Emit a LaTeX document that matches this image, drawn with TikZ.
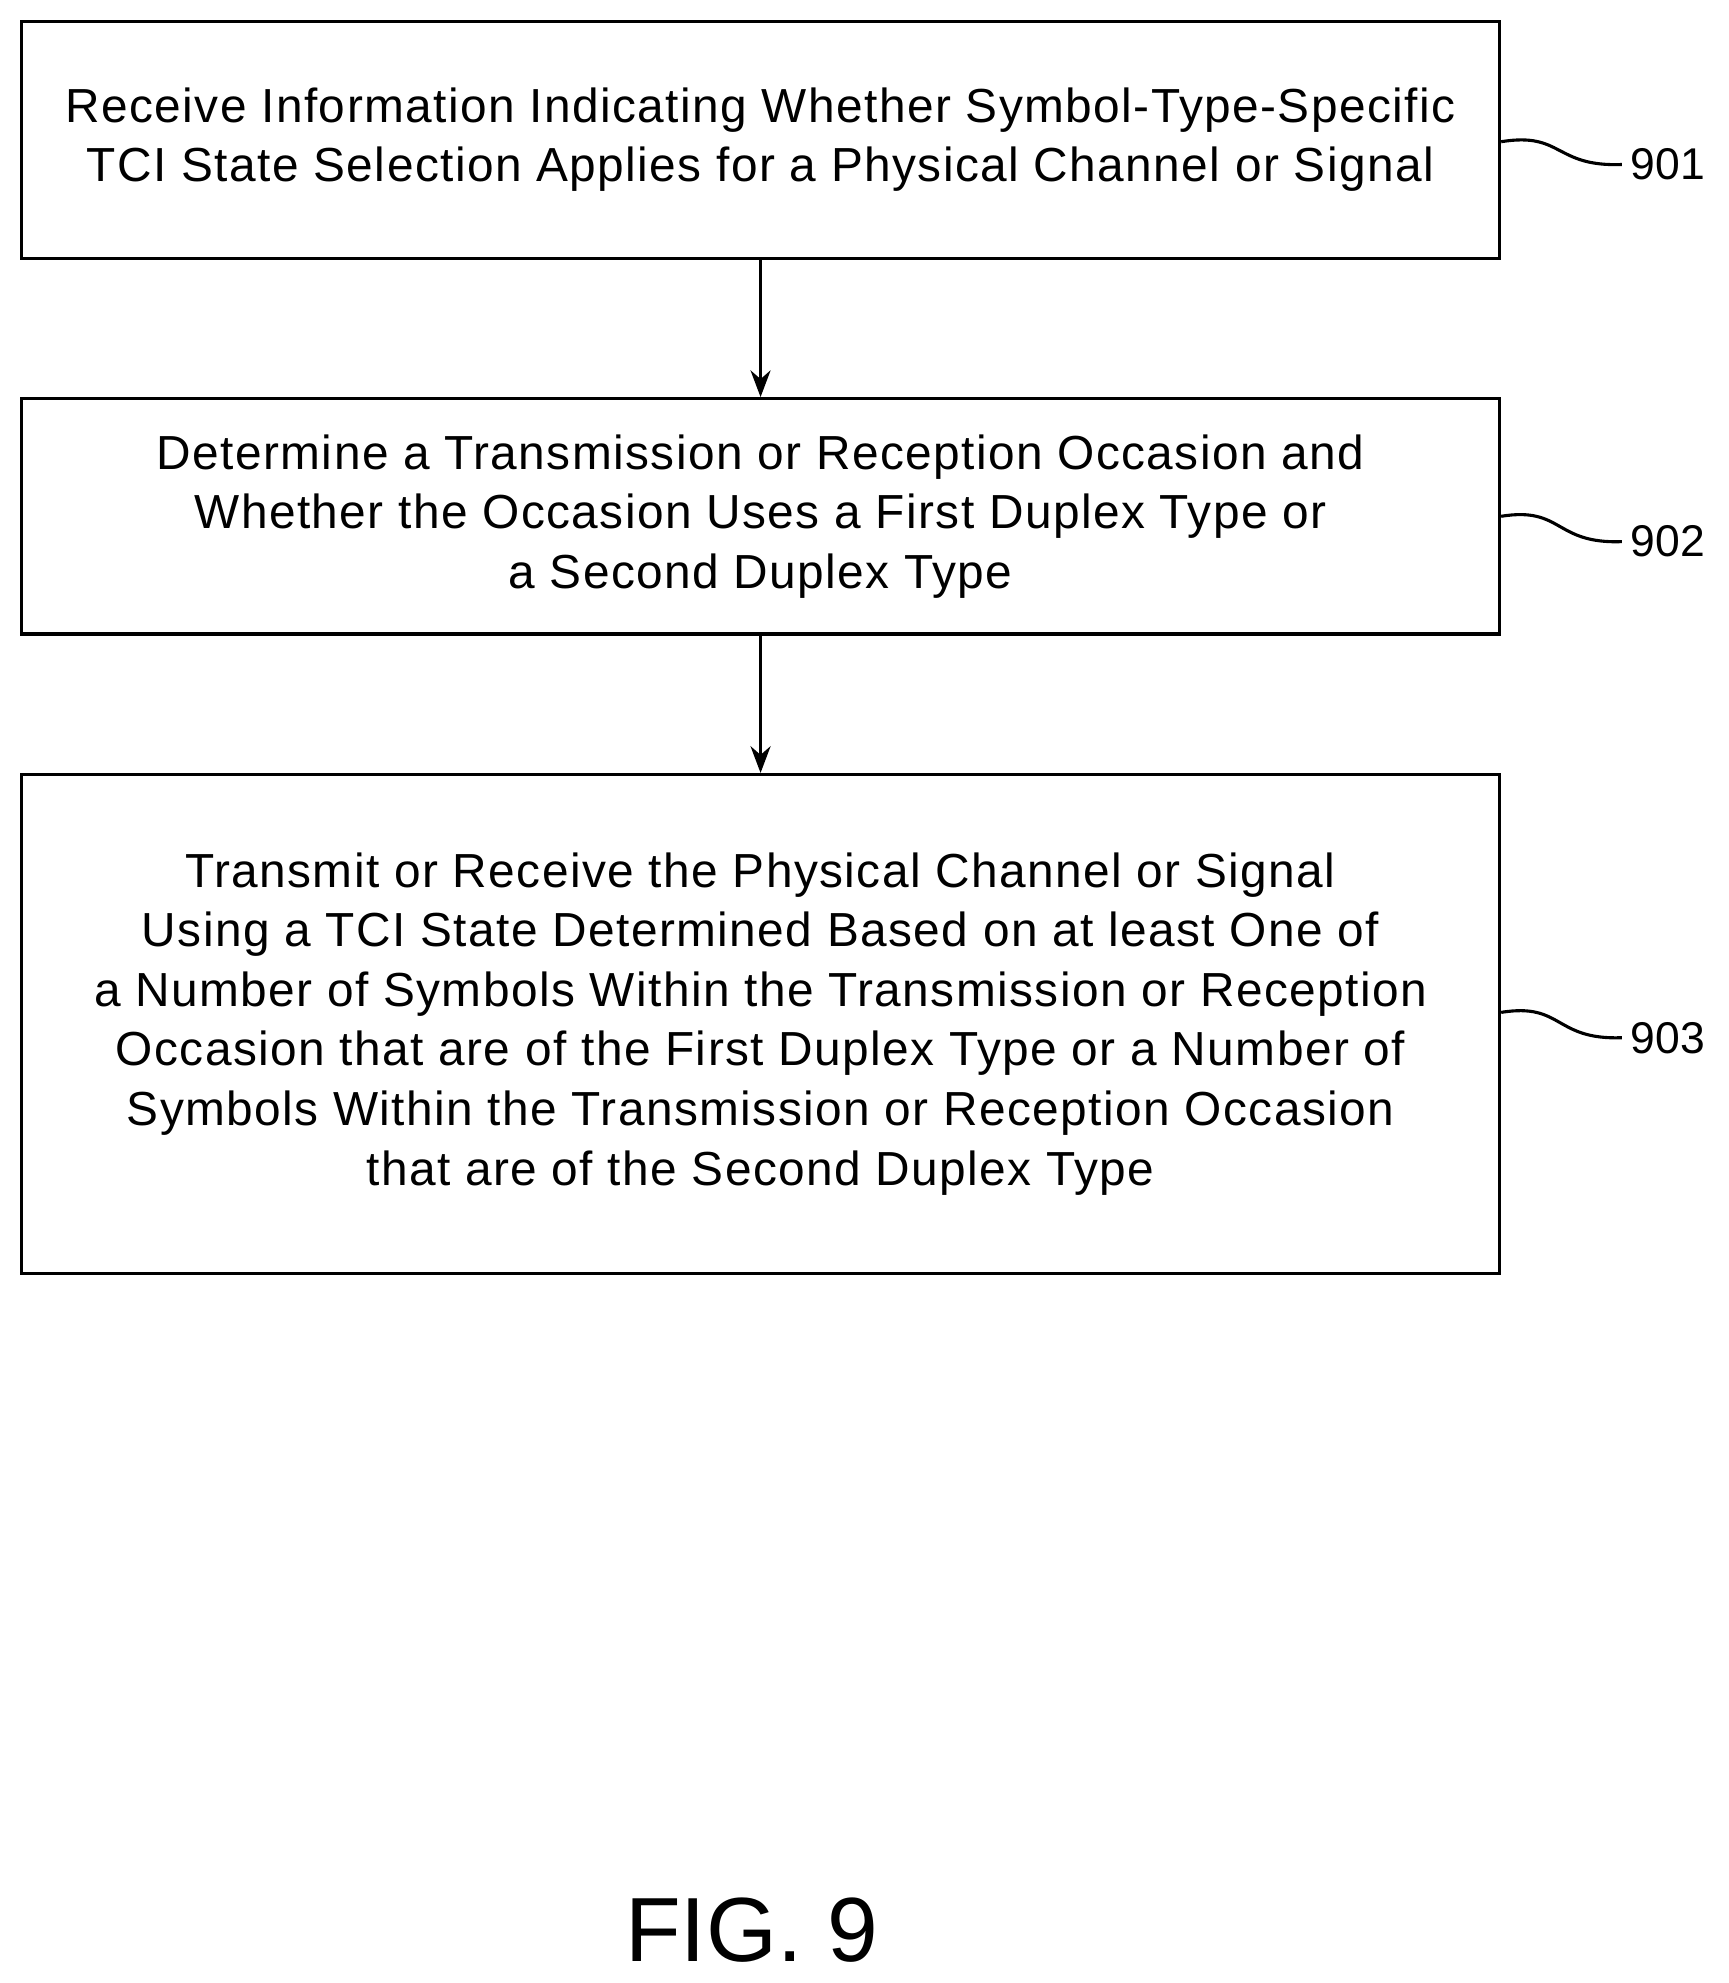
\documentclass[tikz,border=0pt]{standalone}
\usepackage{fontspec}
\setmainfont{Liberation Sans}
\usetikzlibrary{arrows.meta}

\begin{document}
\begin{tikzpicture}[x=0.02cm,y=-0.02cm,->,>={Stealth[length=12pt,width=9pt]},line width=1.4pt]
            \useasboundingbox (0,0) rectangle (1366,1567);
            \tikzset{flowbox/.style={draw=black,minimum width=1168*0.02cm,align=center,font=\fontsize{21.5}{26.8}\selectfont\addfontfeature{LetterSpace=3}},
                     ref/.style={font=\fontsize{20}{24}\selectfont}}
            \node[flowbox,minimum height=187*0.02cm](901)at(601, 110.5){Receive Information Indicating Whether Symbol-Type-Specific\\TCI State Selection Applies for a Physical Channel or Signal};
            \node[flowbox,minimum height=186*0.02cm](902)at(601, 408){Determine a Transmission or Reception Occasion and\\Whether the Occasion Uses a First Duplex Type or\\a Second Duplex Type};
            \node[flowbox,minimum height=394*0.02cm](903)at(601, 809){Transmit or Receive the Physical Channel or Signal\\Using a TCI State Determined Based on at least One of\\a Number of Symbols Within the Transmission or Reception\\Occasion that are of the First Duplex Type or a Number of\\Symbols Within the Transmission or Reception Occasion\\that are of the Second Duplex Type};
            \node[ref](L901)at(1318, 130){901};
            \node[ref](L902)at(1318, 428){902};
            \node[ref](L903)at(1318, 820){903};
            \node[font=\fontsize{41}{48}\selectfont](fig)at(594, 1525){FIG. 9};
            \path[](901) edge (902)
            (902) edge (903);
            \draw[-] (901.east |- 0,112) .. controls (1235,104) and (1228,132) .. (L901.west);
            \draw[-] (902.east |- 0,408) .. controls (1235,400) and (1228,430) .. (L902.west);
            \draw[-] (903.east |- 0,800) .. controls (1235,792) and (1228,822) .. (L903.west);
        \end{tikzpicture}
\end{document}
